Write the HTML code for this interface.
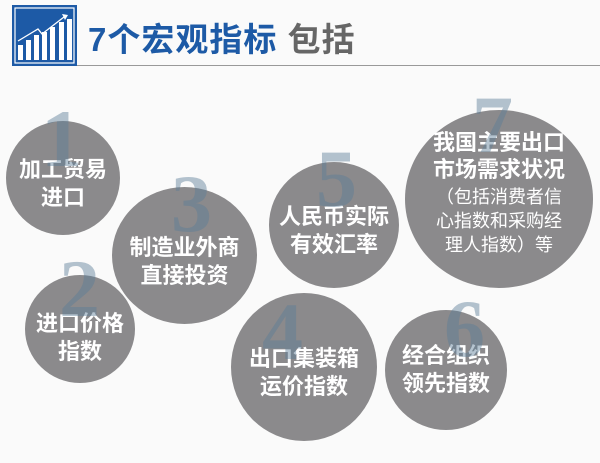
<!DOCTYPE html>
<html><head><meta charset="utf-8"><style>
body{margin:0;width:600px;height:463px;background:#fafafa;position:relative;overflow:hidden;font-family:"Liberation Sans","Noto Sans CJK SC",sans-serif}
.c{position:absolute;border-radius:50%;background:#8b8a8c;color:#fff;font-weight:bold;display:flex;flex-direction:column;align-items:center;justify-content:center;text-align:center;box-sizing:border-box}
.n{position:absolute;font-family:"Liberation Serif",serif;font-weight:bold;color:rgba(90,125,150,0.45);font-size:82px;line-height:1}
.t{font-size:22px;line-height:28px}
</style></head><body>
<div style="position:absolute;left:12px;top:5px;width:65px;height:61px;background:#1d5aa6"></div>
<svg style="position:absolute;left:12px;top:5px" width="65" height="61">
<rect x="3" y="3" width="59" height="55" fill="none" stroke="#fff" stroke-width="1.2"/>
<g fill="#fff"><rect x="6" y="40" width="5" height="15"/><rect x="14" y="35" width="5" height="20"/><rect x="22" y="30" width="5" height="25"/><rect x="30" y="27" width="5" height="28"/><rect x="38" y="22" width="5" height="33"/><rect x="47" y="17" width="5" height="38"/><rect x="55" y="14" width="5" height="41"/></g>
<polyline points="6,36 26,24 30,29 52,12" fill="none" stroke="#fff" stroke-width="1.3"/>
<polygon points="50,9 56,10 53,15" fill="#fff"/>
</svg>
<div style="position:absolute;left:77px;top:65px;width:523px;height:1px;background:#999"></div>
<div style="position:absolute;left:88px;top:13px;font-size:33px;font-weight:bold;color:#1d5aa6;white-space:nowrap;letter-spacing:1px">7个宏观指标 <span style="color:#666">包括</span></div>

<div class="c t" style="left:6px;top:121px;width:114px;height:114px;padding-top:12px">加工贸易<br>进口</div>
<div class="c t" style="left:25px;top:275px;width:110px;height:108px;padding-top:18px">进口价格<br>指数</div>
<div class="c t" style="left:112px;top:187px;width:145px;height:137px;padding-top:12px">制造业外商<br>直接投资</div>
<div class="c t" style="left:231px;top:293px;width:146px;height:148px;padding-top:12px">出口集装箱<br>运价指数</div>
<div class="c t" style="left:269px;top:162px;width:130px;height:126px;padding-top:12px">人民币实际<br>有效汇率</div>
<div class="c t" style="left:385px;top:310px;width:122px;height:120px">经合组织<br>领先指数</div>
<div class="c" style="left:405px;top:110px;width:188px;height:178px">
<div style="font-size:22px;line-height:27px;margin-top:-12px">我国主要出口<br>市场需求状况</div>
<div style="font-size:18px;line-height:24px;font-weight:normal;margin-top:2px">（包括消费者信<br>心指数和采购经<br>理人指数）等</div></div>

<div class="n" style="left:41px;top:98px">1</div>
<div class="n" style="left:59px;top:248px">2</div>
<div class="n" style="left:171px;top:163px">3</div>
<div class="n" style="left:262px;top:291px">4</div>
<div class="n" style="left:316px;top:138px">5</div>
<div class="n" style="left:444px;top:288px">6</div>
<div class="n" style="left:472px;top:84px">7</div>
</body></html>
